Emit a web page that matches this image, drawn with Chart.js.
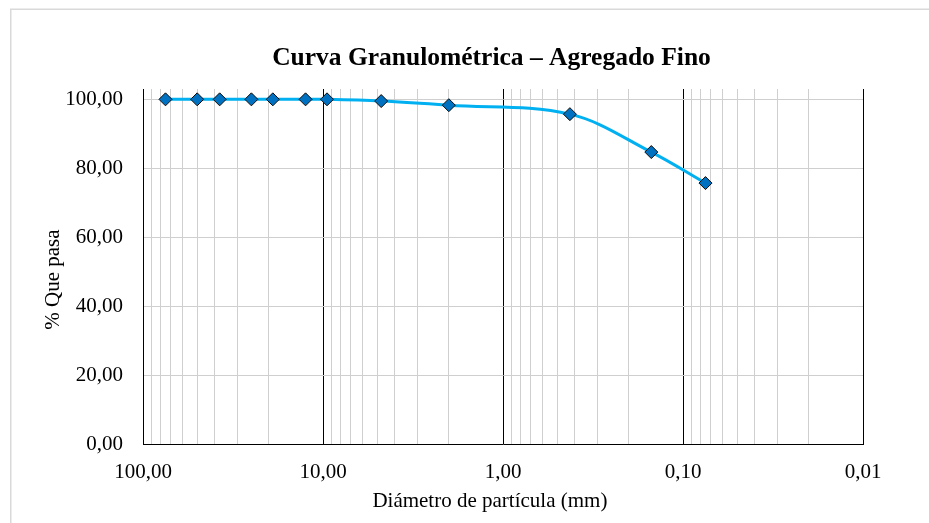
<!DOCTYPE html>
<html lang="es">
<head>
<meta charset="utf-8">
<title>Curva Granulométrica – Agregado Fino</title>
<script src="https://cdn.jsdelivr.net/npm/chart.js@4/dist/chart.umd.min.js"></script>
<style>
    html, body { margin: 0; padding: 0; background: #ffffff; overflow: hidden; }
    #chart-granulometria { display: block; }
</style>
</head>
<body>
<canvas id="chart-granulometria" width="929" height="523"></canvas>
<script>
(function () {
    'use strict';

    // Abertura de tamices (mm) y % que pasa
    const sieveSizes = [75, 50, 37.5, 25, 19, 12.5, 9.5, 4.75, 2.0, 0.425, 0.15, 0.075];
    const percentPassing = [100, 100, 100, 100, 100, 100, 100, 99.5, 98.3, 95.7, 84.7, 75.7];

    // Décadas rotuladas en el eje X y marcas del eje Y
    const xDecades = [100, 10, 1, 0.1, 0.01];
    const yTicks = [0, 20, 40, 60, 80, 100];

    const SERIF = "'Liberation Serif', 'Times New Roman', serif";

    const fmt = (v) => Number(v).toFixed(2).replace('.', ',');
    const isDecade = (v) => {
        const l = Math.log10(v);
        return Math.abs(l - Math.round(l)) < 1e-9;
    };

    // Líneas de cuadrícula logarítmica: 1..9 por década, de 0,01 a 100
    function logGrid() {
        const out = [];
        for (let e = -2; e <= 1; e++) {
            for (let m = 1; m <= 9; m++) {
                out.push(+(m * Math.pow(10, e)).toPrecision(6));
            }
        }
        out.push(xDecades[0]);
        return out.reverse();
    }

    // Marco exterior (solo lados superior e izquierdo visibles)
    const outerFrame = {
        id: 'outerFrame',
        beforeDraw(chart) {
            const ctx = chart.ctx;
            ctx.save();
            ctx.fillStyle = '#ffffff';
            ctx.fillRect(0, 0, chart.width, chart.height);
            ctx.strokeStyle = '#d9d9d9';
            ctx.lineWidth = 1.5;
            ctx.beginPath();
            ctx.moveTo(10.75, chart.height);
            ctx.lineTo(10.75, 9.25);
            ctx.lineTo(chart.width, 9.25);
            ctx.stroke();
            ctx.restore();
        },
        afterLayout(chart) {
            // el título se centra sobre el objeto gráfico completo
            if (chart.titleBlock) {
                chart.titleBlock.left = 10;
                chart.titleBlock.right = 973;
            }
        },
    };

    const canvas = document.getElementById('chart-granulometria');

    new Chart(canvas, {
        type: 'line',
        data: {
            datasets: [{
                label: '% Que pasa',
                data: sieveSizes.map((d, i) => ({ x: d, y: percentPassing[i] })),
                borderColor: '#00b0f0',
                borderWidth: 3,
                tension: 0.35,
                fill: false,
                pointStyle: 'rectRot',
                pointRadius: 6.5,
                pointBackgroundColor: '#0070c0',
                pointBorderColor: '#0d0d0d',
                pointBorderWidth: 1,
                clip: false,
            }],
        },
        options: {
            responsive: false,
            animation: false,
            layout: { padding: { left: 0, top: 0, right: 66, bottom: 0 } },
            plugins: {
                legend: { display: false },
                tooltip: { enabled: false },
                title: {
                    display: true,
                    text: 'Curva Granulométrica – Agregado Fino',
                    color: '#000000',
                    font: { family: SERIF, size: 25.5, weight: 'bold' },
                    padding: { top: 43.4, bottom: 15 },
                },
            },
            scales: {
                x: {
                    type: 'logarithmic',
                    reverse: true,
                    min: 0.01,
                    max: 100,
                    afterBuildTicks(scale) {
                        scale.ticks = logGrid().map(v => ({ value: v, major: isDecade(v) }));
                    },
                    afterFit(scale) {
                        scale.height = 79;
                        scale.paddingLeft = 0;
                        scale.paddingRight = 0;
                    },
                    ticks: {
                        autoSkip: false,
                        maxRotation: 0,
                        padding: 16,
                        color: '#000000',
                        font: { family: SERIF, size: 21 },
                        callback: (v) => (isDecade(v) ? fmt(v) : ''),
                    },
                    grid: {
                        drawTicks: false,
                        lineWidth: 1,
                        color: (c) => (c.tick && isDecade(c.tick.value) ? '#000000' : '#cfcfcf'),
                    },
                    border: { color: '#000000', width: 1 },
                    title: {
                        display: true,
                        text: 'Diámetro de partícula (mm)     ',
                        color: '#000000',
                        font: { family: SERIF, size: 21 },
                        padding: { top: 0, bottom: 9 },
                    },
                },
                y: {
                    min: 0,
                    max: 103,
                    afterBuildTicks(scale) {
                        scale.ticks = yTicks.map(v => ({ value: v }));
                    },
                    afterFit(scale) {
                        scale.width = 143;
                        scale.paddingTop = 0;
                        scale.paddingBottom = 0;
                    },
                    ticks: {
                        padding: 20,
                        color: '#000000',
                        font: { family: SERIF, size: 21 },
                        callback: (v) => fmt(v),
                    },
                    grid: { drawTicks: false, lineWidth: 1, color: '#cfcfcf' },
                    border: { color: '#000000', width: 1 },
                    title: {
                        display: true,
                        text: '% Que pasa     ',
                        color: '#000000',
                        font: { family: SERIF, size: 21 },
                        padding: { top: 41, bottom: 0 },
                    },
                },
            },
        },
        plugins: [outerFrame],
    });
})();
</script>
</body>
</html>
